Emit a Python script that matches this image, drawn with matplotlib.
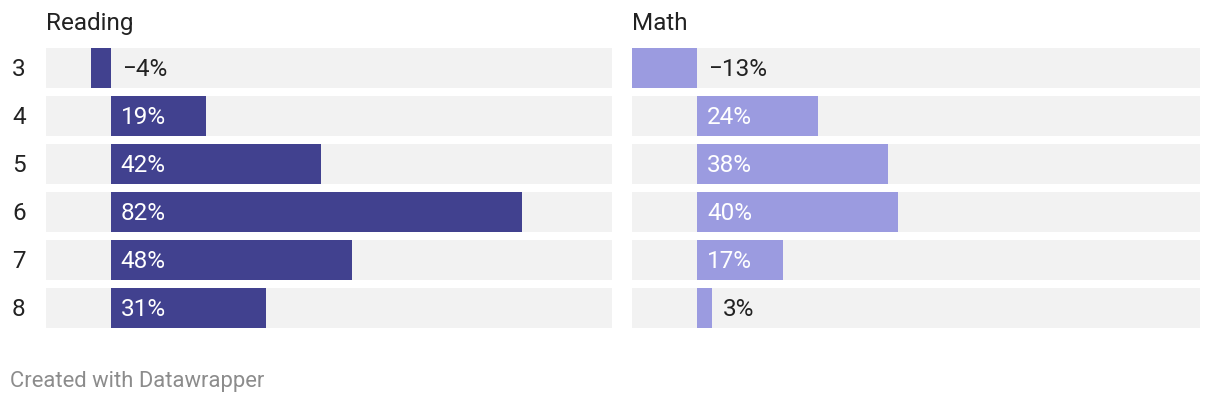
import matplotlib
matplotlib.use("Agg")
import matplotlib.pyplot as plt
from matplotlib.transforms import offset_copy

plt.rcParams['font.family'] = ['Roboto', 'DejaVu Sans']

grades = ["3", "4", "5", "6", "7", "8"]
reading = [-4, 19, 42, 82, 48, 31]
math_vals = [-13, 24, 38, 40, 17, 3]
labels_reading = ["−4%", "19%", "42%", "82%", "48%", "31%"]
labels_math = ["−13%", "24%", "38%", "40%", "17%", "3%"]
titles = ["Reading", "Math"]

W, H = 1220, 404
fig = plt.figure(figsize=(W/100, H/100), dpi=100)

xmin, xmax = -13, 100
panels = [(46, 612, reading, labels_reading, "#41418f"),
          (632, 1200, math_vals, labels_math, "#9b9be0")]

FS = 17.5
DY = -1.2
top_px, bot_px = 44, 332
for i, (x0, x1, vals, labs, col) in enumerate(panels):
    ax = fig.add_axes([x0/W, 1-bot_px/H, (x1-x0)/W, (bot_px-top_px)/H])
    ax.set_xlim(xmin, xmax)
    ax.set_ylim(len(grades)-0.5, -0.5)
    ax.axis('off')
    ys = list(range(len(grades)))
    ax.barh(ys, [xmax-xmin]*len(ys), left=xmin, height=40/48, color="#f2f2f2", zorder=1)
    ax.barh(ys, vals, height=40/48, color=col, zorder=2)
    for y, v, lab in zip(ys, vals, labs):
        if v >= 10:
            tr = offset_copy(ax.transData, fig=fig, x=7.0, y=DY, units='points')
            ax.text(0, y, lab, transform=tr, ha='left', va='center',
                    color='white', fontsize=FS, zorder=3)
        else:
            tr = offset_copy(ax.transData, fig=fig, x=7.5, y=DY, units='points')
            ax.text(max(v, 0), y, lab, transform=tr, ha='left', va='center',
                    color='#222222', fontsize=FS, zorder=3)
    fig.text(x0/W, 1-23.5/H, titles[i], ha='left', va='center', fontsize=FS, color='#222222')

for j, g in enumerate(grades):
    fig.text(12/W, 1-(69.5+48*j)/H, g, ha='left', va='center', fontsize=FS, color='#222222')

fig.text(10/W, 1-381/H, "Created with Datawrapper", ha='left', va='center',
         fontsize=15.8, color='#8c8c8c')

fig.savefig("out.png", dpi=100)
